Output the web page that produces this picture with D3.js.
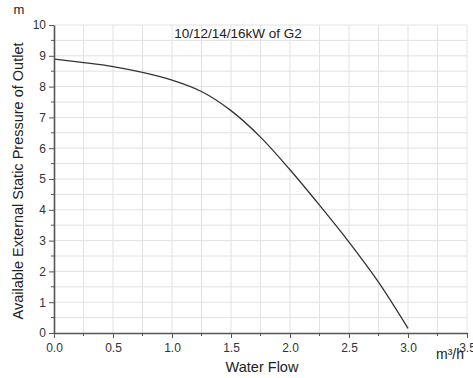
<!DOCTYPE html>
<html><head><meta charset="utf-8">
<script src="https://cdn.jsdelivr.net/npm/d3@7"></script>
<style>
html,body{margin:0;padding:0;background:#fff;}
svg{display:block;font-family:"Liberation Sans",Arial,sans-serif;}
</style></head>
<body>
<svg id="c" width="473" height="378"></svg>
<script>
const flow = [0, 0.25, 0.5, 0.75, 1.0, 1.25, 1.5, 1.75, 2.0, 2.25, 2.5, 2.75, 3.0];
const pressure = [8.89, 8.78, 8.65, 8.46, 8.21, 7.84, 7.22, 6.36, 5.30, 4.15, 2.95, 1.65, 0.15];
const xTicks = [0, 0.5, 1.0, 1.5, 2.0, 2.5, 3.0, 3.5];
const yTicks = [0, 1, 2, 3, 4, 5, 6, 7, 8, 9, 10];
const title = "10/12/14/16kW of G2";
const xLabel = "Water Flow";
const yLabel = "Available External Static Pressure of Outlet";
const xUnit = "m³/h";
const yUnit = "m";

const svg = d3.select("#c");
const x = d3.scaleLinear().domain([0, 3.5]).range([54, 467]);
const y = d3.scaleLinear().domain([0, 10]).range([333, 25]);

const g = svg.append("g");
const xGrid = d3.range(0.25, 3.51, 0.25);
const yGrid = d3.range(0.5, 10.01, 0.5);
g.selectAll(".vg").data(xGrid).join("line")
  .attr("x1", d => x(d)).attr("x2", d => x(d))
  .attr("y1", y(0)).attr("y2", y(10))
  .attr("stroke", "#e2e2e2").attr("stroke-width", 1);
g.selectAll(".hg").data(yGrid).join("line")
  .attr("x1", x(0)).attr("x2", x(3.5))
  .attr("y1", d => y(d)).attr("y2", d => y(d))
  .attr("stroke", "#e2e2e2").attr("stroke-width", 1);

const line = d3.line().x((d, i) => x(flow[i])).y(d => y(d)).curve(d3.curveCatmullRom.alpha(0.5));
g.append("path").attr("d", line(pressure)).attr("fill", "none")
  .attr("stroke", "#333").attr("stroke-width", 1.3);

const axCol = "#555";
const ff = "Liberation Sans, Arial, sans-serif";
const xAxis = d3.axisBottom(x).tickValues(xTicks).tickFormat(d3.format(".1f")).tickSize(5).tickSizeOuter(0);
const xa = svg.append("g").attr("transform", `translate(0,${y(0)})`).call(xAxis);
xa.select(".domain").attr("stroke", axCol).attr("stroke-width", 1.6);
xa.selectAll(".tick line").attr("stroke", axCol);
xa.selectAll(".tick text").attr("fill", "#333").attr("font-size", 12).attr("dy", "0.9em")
  .attr("font-family", ff);
const xMinor = d3.range(0.25, 3.5, 0.5);
xa.selectAll(".mt").data(xMinor).join("line")
  .attr("x1", d => x(d)).attr("x2", d => x(d)).attr("y1", 0).attr("y2", 3).attr("stroke", axCol);

const yAxis = d3.axisLeft(y).tickValues(yTicks).tickFormat(d3.format("d")).tickSize(5).tickSizeOuter(0);
const ya = svg.append("g").attr("transform", `translate(${x(0)},0)`).call(yAxis);
ya.select(".domain").attr("stroke", axCol).attr("stroke-width", 1.6);
ya.selectAll(".tick line").attr("stroke", axCol);
ya.selectAll(".tick text").attr("fill", "#333").attr("font-size", 12).attr("font-family", ff);
const yMinor = d3.range(0.5, 10, 1);
ya.selectAll(".mt").data(yMinor).join("line")
  .attr("x1", 0).attr("x2", -3).attr("y1", d => y(d)).attr("y2", d => y(d)).attr("stroke", axCol);

svg.append("text").attr("x", 238).attr("y", 38).attr("text-anchor", "middle")
  .attr("font-size", 13.5).attr("fill", "#222").text(title);
svg.append("text").attr("x", 262).attr("y", 372).attr("text-anchor", "middle")
  .attr("font-size", 14.5).attr("fill", "#222").text(xLabel);
svg.append("text").attr("transform", `translate(23,${(y(0)+y(10))/2 + 2}) rotate(-90)`)
  .attr("text-anchor", "middle").attr("font-size", 14.5).attr("fill", "#222").text(yLabel);
svg.append("text").attr("x", 19).attr("y", 14).attr("text-anchor", "middle")
  .attr("font-size", 13).attr("fill", "#222").text(yUnit);
svg.append("text").attr("x", 436).attr("y", 359).attr("font-size", 14).attr("fill", "#222")
  .text(xUnit);
</script>
</body></html>
